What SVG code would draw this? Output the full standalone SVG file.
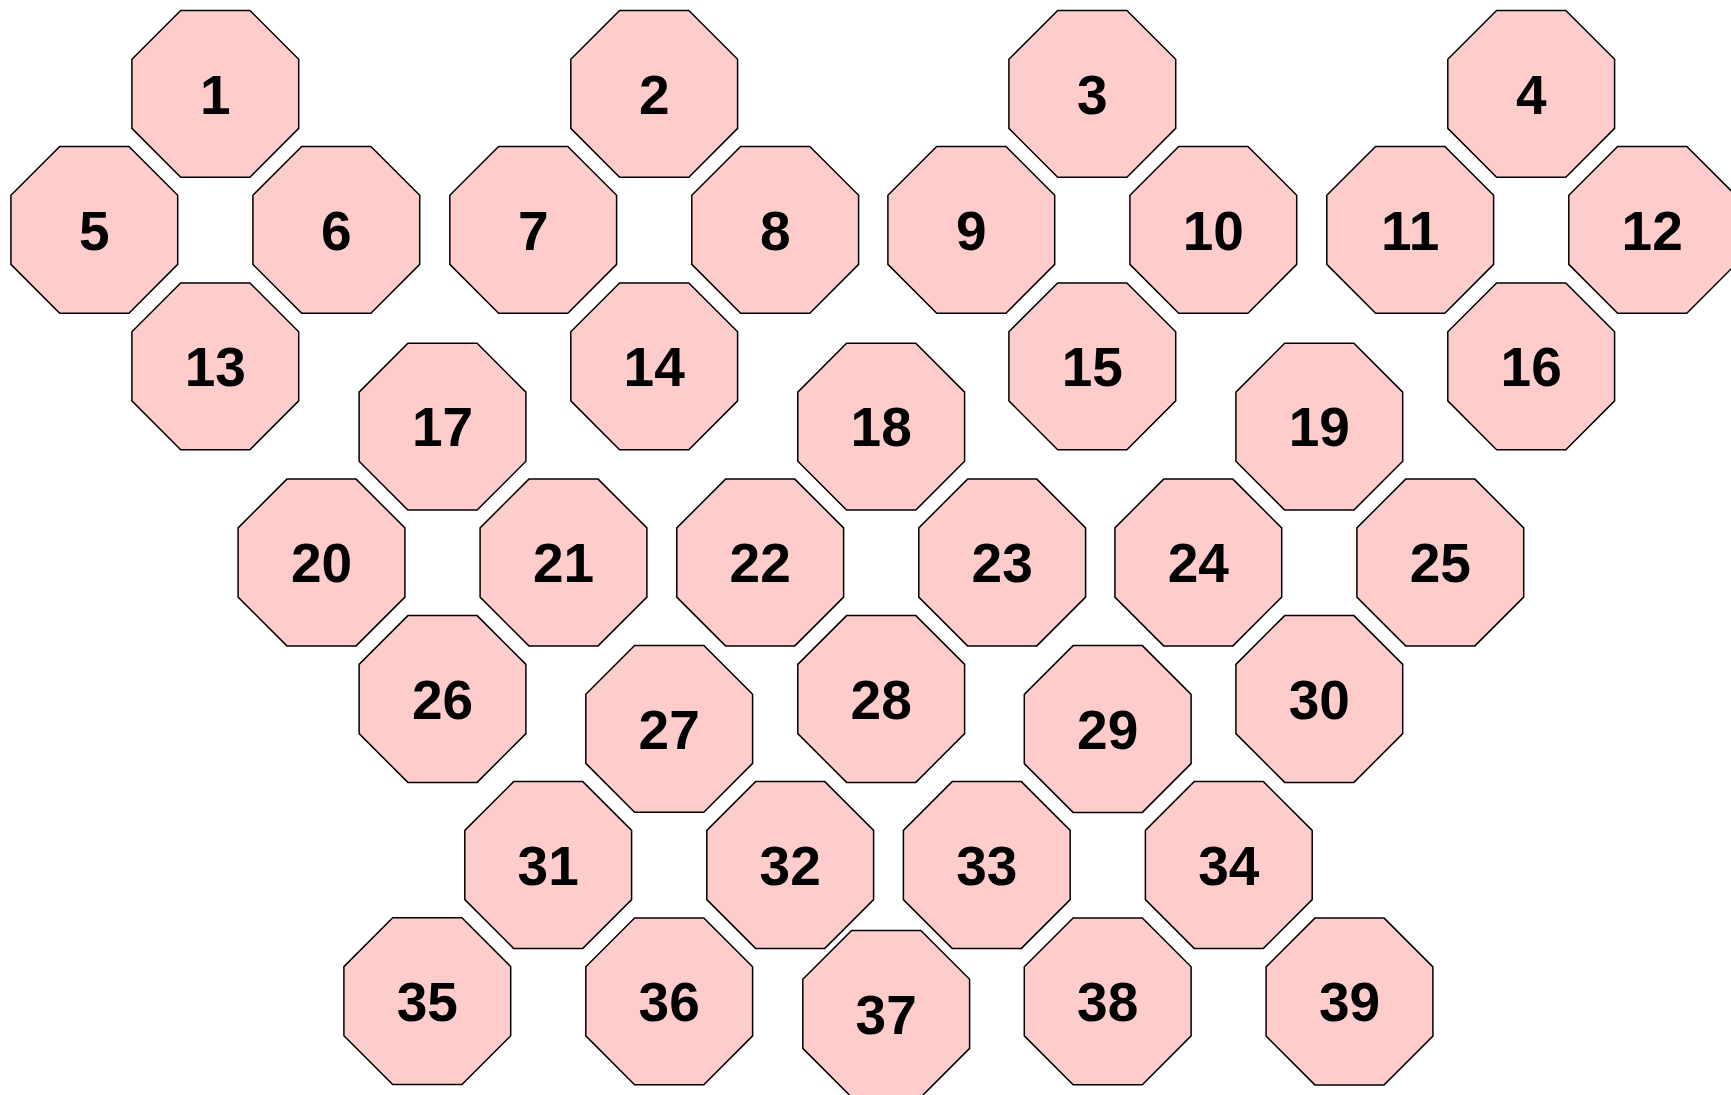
<svg xmlns="http://www.w3.org/2000/svg" xmlns:xlink="http://www.w3.org/1999/xlink" width="1731" height="1095" viewBox="0 0 1731 1095">
<style>
.oct{fill:#FFCCCC;stroke:#000000;stroke-width:1.5;stroke-linejoin:miter}
.lbl{font-family:"Liberation Sans",Arial,sans-serif;font-weight:bold;font-size:55px;fill:#000000;text-anchor:middle}
</style>
<defs>
<polygon id="oct" class="oct" points="-34.6,-83.4 34.6,-83.4 83.4,-34.6 83.4,34.6 34.6,83.4 -34.6,83.4 -83.4,34.6 -83.4,-34.6"/>
</defs>
<rect width="1731" height="1095" fill="#FFFFFF"/>
<g id="connectors"></g>
<g id="node1" transform="translate(215.3,93.8)"><use href="#oct"/><text class="lbl" x="0" y="19.7">1</text></g>
<g id="node2" transform="translate(654.2,93.8)"><use href="#oct"/><text class="lbl" x="0" y="19.7">2</text></g>
<g id="node3" transform="translate(1092.3,93.8)"><use href="#oct"/><text class="lbl" x="0" y="19.7">3</text></g>
<g id="node4" transform="translate(1531.2,93.8)"><use href="#oct"/><text class="lbl" x="0" y="19.7">4</text></g>
<g id="node5" transform="translate(94.3,229.8)"><use href="#oct"/><text class="lbl" x="0" y="19.7">5</text></g>
<g id="node6" transform="translate(336.3,229.8)"><use href="#oct"/><text class="lbl" x="0" y="19.7">6</text></g>
<g id="node7" transform="translate(533.2,229.8)"><use href="#oct"/><text class="lbl" x="0" y="19.7">7</text></g>
<g id="node8" transform="translate(775.2,229.8)"><use href="#oct"/><text class="lbl" x="0" y="19.7">8</text></g>
<g id="node9" transform="translate(971.3,229.8)"><use href="#oct"/><text class="lbl" x="0" y="19.7">9</text></g>
<g id="node10" transform="translate(1213.3,229.8)"><use href="#oct"/><text class="lbl" x="0" y="19.7">10</text></g>
<g id="node11" transform="translate(1410.2,229.8)"><use href="#oct"/><text class="lbl" x="0" y="19.7">11</text></g>
<g id="node12" transform="translate(1652.2,229.8)"><use href="#oct"/><text class="lbl" x="0" y="19.7">12</text></g>
<g id="node13" transform="translate(215.3,366.3)"><use href="#oct"/><text class="lbl" x="0" y="19.7">13</text></g>
<g id="node14" transform="translate(654.2,366.3)"><use href="#oct"/><text class="lbl" x="0" y="19.7">14</text></g>
<g id="node15" transform="translate(1092.3,366.3)"><use href="#oct"/><text class="lbl" x="0" y="19.7">15</text></g>
<g id="node16" transform="translate(1531.2,366.3)"><use href="#oct"/><text class="lbl" x="0" y="19.7">16</text></g>
<g id="node17" transform="translate(442.5,426.7)"><use href="#oct"/><text class="lbl" x="0" y="19.7">17</text></g>
<g id="node18" transform="translate(881.2,426.7)"><use href="#oct"/><text class="lbl" x="0" y="19.7">18</text></g>
<g id="node19" transform="translate(1319.3,426.7)"><use href="#oct"/><text class="lbl" x="0" y="19.7">19</text></g>
<g id="node20" transform="translate(321.5,562.5)"><use href="#oct"/><text class="lbl" x="0" y="19.7">20</text></g>
<g id="node21" transform="translate(563.5,562.5)"><use href="#oct"/><text class="lbl" x="0" y="19.7">21</text></g>
<g id="node22" transform="translate(760.2,562.5)"><use href="#oct"/><text class="lbl" x="0" y="19.7">22</text></g>
<g id="node23" transform="translate(1002.2,562.5)"><use href="#oct"/><text class="lbl" x="0" y="19.7">23</text></g>
<g id="node24" transform="translate(1198.3,562.5)"><use href="#oct"/><text class="lbl" x="0" y="19.7">24</text></g>
<g id="node25" transform="translate(1440.3,562.5)"><use href="#oct"/><text class="lbl" x="0" y="19.7">25</text></g>
<g id="node26" transform="translate(442.5,699)"><use href="#oct"/><text class="lbl" x="0" y="19.7">26</text></g>
<g id="node27" transform="translate(669.2,728.8)"><use href="#oct"/><text class="lbl" x="0" y="19.7">27</text></g>
<g id="node28" transform="translate(881.2,699)"><use href="#oct"/><text class="lbl" x="0" y="19.7">28</text></g>
<g id="node29" transform="translate(1107.7,729)"><use href="#oct"/><text class="lbl" x="0" y="19.7">29</text></g>
<g id="node30" transform="translate(1319.3,699)"><use href="#oct"/><text class="lbl" x="0" y="19.7">30</text></g>
<g id="node31" transform="translate(548.2,865)"><use href="#oct"/><text class="lbl" x="0" y="19.7">31</text></g>
<g id="node32" transform="translate(790.2,865)"><use href="#oct"/><text class="lbl" x="0" y="19.7">32</text></g>
<g id="node33" transform="translate(986.8,865)"><use href="#oct"/><text class="lbl" x="0" y="19.7">33</text></g>
<g id="node34" transform="translate(1228.8,865)"><use href="#oct"/><text class="lbl" x="0" y="19.7">34</text></g>
<g id="node35" transform="translate(427.3,1001.2)"><use href="#oct"/><text class="lbl" x="0" y="19.7">35</text></g>
<g id="node36" transform="translate(669.2,1001.3)"><use href="#oct"/><text class="lbl" x="0" y="19.7">36</text></g>
<g id="node37" transform="translate(886.2,1013.8)"><use href="#oct"/><text class="lbl" x="0" y="19.7">37</text></g>
<g id="node38" transform="translate(1107.7,1001.3)"><use href="#oct"/><text class="lbl" x="0" y="19.7">38</text></g>
<g id="node39" transform="translate(1349.5,1001.5)"><use href="#oct"/><text class="lbl" x="0" y="19.7">39</text></g>
</svg>
